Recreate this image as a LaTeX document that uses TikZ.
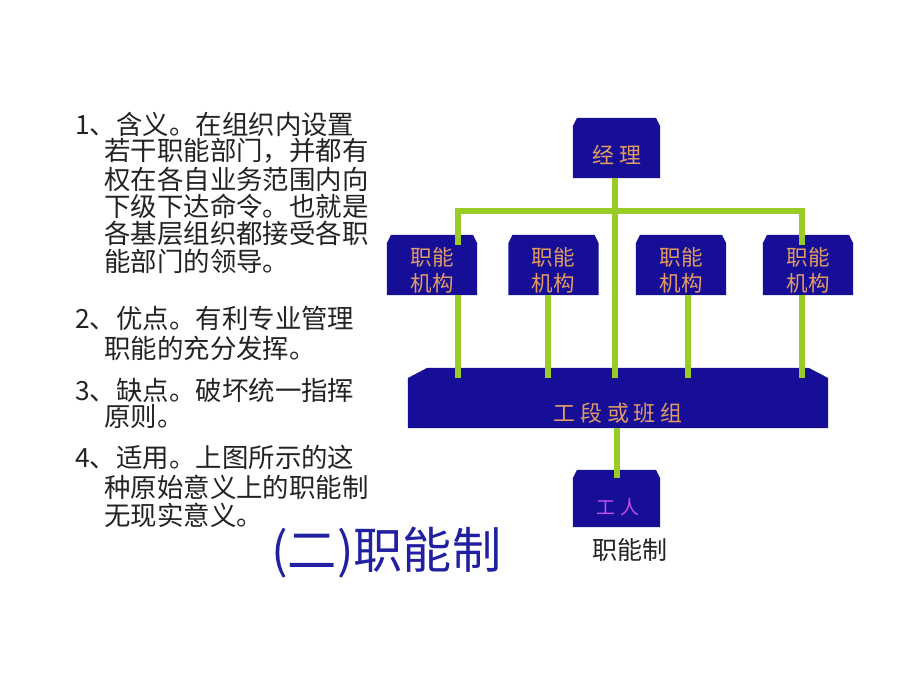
\documentclass[tikz,border=0pt]{standalone}
\usepackage{fontspec}
\setmainfont{Noto Sans CJK SC}
\usetikzlibrary{calc}

\definecolor{boxnavy}{RGB}{22,14,150}
\definecolor{feedgreen}{RGB}{154,204,40}
\definecolor{boxtext}{RGB}{225,155,100}
\definecolor{wkrtext}{RGB}{196,80,232}
\definecolor{titleblue}{RGB}{32,32,160}
\definecolor{bodytext}{RGB}{35,35,35}

\tikzset{
	blk/.style 2 args={inner sep=0pt,
		path picture={\fill[boxnavy]
			([yshift=-#2*0.025cm]path picture bounding box.north west)
			-- ([xshift=#1*0.025cm]path picture bounding box.north west)
			-- ([xshift=-#1*0.025cm]path picture bounding box.north east)
			-- ([yshift=-#2*0.025cm]path picture bounding box.north east)
			-- (path picture bounding box.south east)
			-- (path picture bounding box.south west) -- cycle;}},
	unitbox/.style={blk={4}{8}, minimum width=2.25cm, minimum height=1.5cm},
	barbox/.style={blk={19}{10}, minimum width=10.5cm, minimum height=1.5cm},
	boxlbl/.style={inner sep=0pt, text=boxtext, font=\fontsize{15.6pt}{18pt}\selectfont},
	unitlbl/.style={inner sep=0pt, text=boxtext, align=center, font=\fontsize{15.3pt}{18.5pt}\selectfont},
	para/.style={anchor=west, inner sep=0pt, text=bodytext, font=\fontsize{18.8pt}{22pt}\selectfont},
	feed/.style={draw=feedgreen, line width=3.6pt},
}

\begin{document}
\begin{tikzpicture}[x=0.025cm, y=-0.025cm]
	\useasboundingbox (0,0) rectangle (920,690);

	% left column
	\node[para] (t1a) at (75,124) {1、含义。在组织内设置};
	\node[para] (t1b) at (104,151) {若干职能部门，并都有};
	\node[para] (t1c) at (104,179) {权在各自业务范围内向};
	\node[para] (t1d) at (104,206) {下级下达命令。也就是};
	\node[para] (t1e) at (104,233) {各基层组织都接受各职};
	\node[para] (t1f) at (104,261) {能部门的领导。};
	\node[para] (t2a) at (75,318) {2、优点。有利专业管理};
	\node[para] (t2b) at (104,348) {职能的充分发挥。};
	\node[para] (t3a) at (75,390) {3、缺点。破坏统一指挥};
	\node[para] (t3b) at (104,417) {原则。};
	\node[para] (t4a) at (75,457) {4、适用。上图所示的这};
	\node[para] (t4b) at (104,487) {种原始意义上的职能制};
	\node[para] (t4c) at (104,515) {无现实意义。};

	\node[anchor=west, inner sep=0pt, text=titleblue, font=\fontsize{35pt}{39pt}\selectfont] (ttl) at (271,553) {(二)职能制};

	% boxes
	\node[unitbox, minimum width=2.175cm] (mgr) at (616.5,148) {};
	\node[unitbox] (u1) at (432,265) {};
	\node[unitbox] (u2) at (553.5,265) {};
	\node[unitbox] (u3) at (681,265) {};
	\node[unitbox] (u4) at (808,265) {};
	\node[barbox] (bar) at (618,398) {};
	\node[unitbox, minimum width=2.175cm, minimum height=1.425cm] (wkr) at (616.5,498.5) {};

	\node[boxlbl] (mgrlbl) at (617,155) {经 理};
	\foreach \u in {u1,u2,u3,u4}
		\node[unitlbl] (\u lbl) at ($(\u.center)+(0,5)$) {职能\\机构};
	\node[boxlbl] (barlbl) at (618,413) {工 段 或 班 组};
	\node[boxlbl, text=wkrtext, font=\fontsize{13.5pt}{15pt}\selectfont] (wkrlbl) at (618,507) {工 人};

	\node[inner sep=0pt, text=bodytext, font=\fontsize{17.8pt}{20pt}\selectfont] (cap) at (630,550) {职能制};

	% connectors
	\coordinate (busL) at (458,211);
	\coordinate (busR) at (802,211);
	\coordinate (mid) at (615,0);
	\coordinate (low) at (617,0);
	\coordinate (l2) at (548,295);
	\coordinate (l3) at (688,295);
	\draw[feed] ($(busL |- u1.north)+(0,10)$) -- (busL) -- (busR) -- ($(busR |- u4.north)+(0,10)$);
	\draw[feed] (mgr.south -| mid) -- ($(bar.north -| mid)+(0,10)$);
	\draw[feed] (u1.south -| busL) -- ($(bar.north -| busL)+(0,10)$);
	\draw[feed] (l2) -- ($(bar.north -| l2)+(0,10)$);
	\draw[feed] (l3) -- ($(bar.north -| l3)+(0,10)$);
	\draw[feed] (u4.south -| busR) -- ($(bar.north -| busR)+(0,10)$);
	\draw[feed] (bar.south -| low) -- ($(wkr.north -| low)+(0,8)$);
\end{tikzpicture}
\end{document}
